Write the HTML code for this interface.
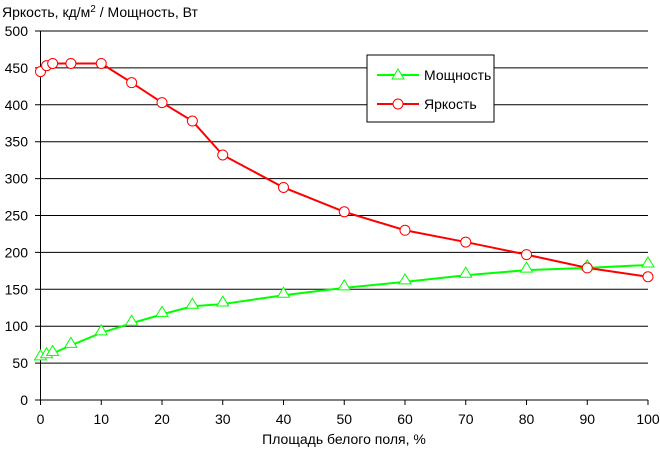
<!DOCTYPE html>
<html><head><meta charset="utf-8"><style>
body{margin:0;background:#fff;font-family:"Liberation Sans",sans-serif;}
</style></head><body>
<svg id="c" width="660" height="454" xmlns="http://www.w3.org/2000/svg" font-family="Liberation Sans, sans-serif">
<text x="2" y="17" font-size="14">Яркость, кд/м<tspan dy="-5" font-size="10">2</tspan><tspan dy="5"> / Мощность, Вт</tspan></text>
<text x="344" y="444" font-size="14" text-anchor="middle">Площадь белого поля, %</text>
<g id="grid"></g><g id="series"></g>
<g>
<rect x="367" y="55" width="127" height="67" fill="#fff" stroke="#000"/>
<line x1="377" y1="75" x2="419" y2="75" stroke="#00ff00" stroke-width="2"/>
<polygon points="398,69 404,79 392,79" fill="#fff" stroke="#00ff00"/>
<text x="424" y="80" font-size="14">Мощность</text>
<line x1="377" y1="104" x2="419" y2="104" stroke="#ff0000" stroke-width="2"/>
<circle cx="398" cy="104" r="5" fill="#fff" stroke="#ff0000"/>
<text x="424" y="109" font-size="14">Яркость</text>
</g>
</svg>
<script>
const xs=[0,1,2,5,10,15,20,25,30,40,50,60,70,80,90,100];
const brightness=[445,453,456,456,456,430,403,378,332,288,255,230,214,197,179,167];
const power=[57,60,63,74,91,104,116,127,130,142,152,160,169,176,179,183];
const xTicks=[0,10,20,30,40,50,60,70,80,90,100];
const yTicks=[0,50,100,150,200,250,300,350,400,450,500];
const NS="http://www.w3.org/2000/svg";
const X=v=>40.5+v*6.075, Y=v=>400-v*0.738;
function mk(t,a,p){const e=document.createElementNS(NS,t);for(const k in a)e.setAttribute(k,a[k]);p.appendChild(e);return e;}
const g=document.getElementById('grid'), s=document.getElementById('series');
yTicks.forEach(v=>{
 const l=mk('line',{x1:35,x2:v===0?648:648,y1:Y(v),y2:Y(v),stroke:'#000'},g);
 
 
 const t=mk('text',{x:28,y:Y(v)+5,'font-size':14,'text-anchor':'end'},g);t.textContent=v;
 
 
});
xTicks.forEach(v=>{
 mk('line',{x1:X(v),x2:X(v),y1:400,y2:405,stroke:'#000'},g);
 const t=mk('text',{x:X(v),y:424,'font-size':14,'text-anchor':'middle'},g);t.textContent=v;
 
 
});
const ax=mk('line',{x1:40.5,x2:40.5,y1:31,y2:405,stroke:'#000'},g);


const pp=mk('polyline',{points:xs.map((x,i)=>X(x)+','+Y(power[i])).join(' '),fill:'none',stroke:'#00ff00','stroke-width':2},s);


const bp=mk('polyline',{points:xs.map((x,i)=>X(x)+','+Y(brightness[i])).join(' '),fill:'none',stroke:'#ff0000','stroke-width':2},s);


xs.forEach((x,i)=>{
 const cx=X(x), cy=Y(power[i])-2;
 const tr=mk('polygon',{points:`${cx},${cy-6} ${cx+6},${cy+4} ${cx-6},${cy+4}`,fill:'#fff',stroke:'#00ff00'},s);
 
 
 const c=mk('circle',{cx:cx,cy:Y(brightness[i]),r:5,fill:'#fff',stroke:'#ff0000'},s);
 
 
});
</script>
</body></html>
